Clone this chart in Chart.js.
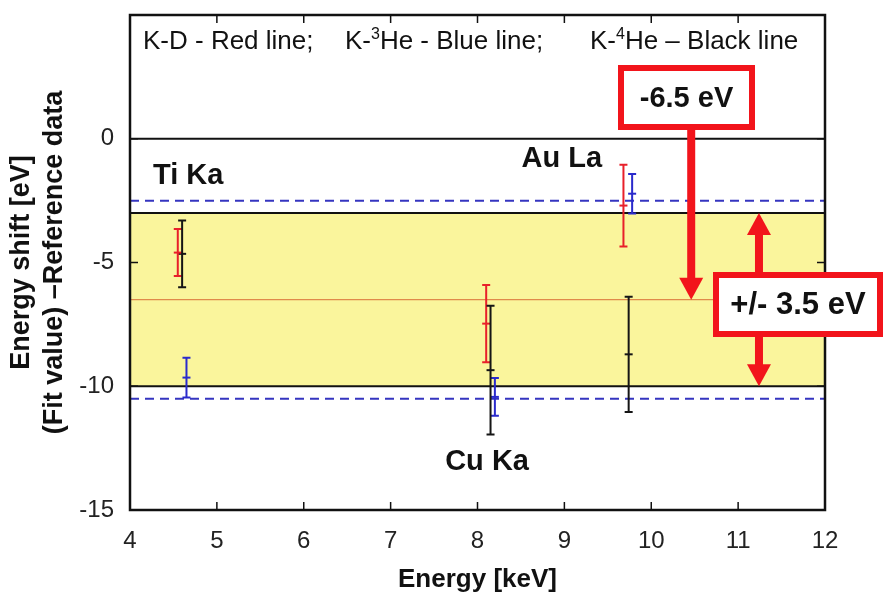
<!DOCTYPE html>
<html>
<head>
<meta charset="utf-8">
<script src="https://cdn.jsdelivr.net/npm/chart.js@4.4.1/dist/chart.umd.min.js"></script>
<style>
  html, body { margin: 0; padding: 0; background: #fff; }
  #wrap { width: 883px; height: 595px; }
</style>
</head>
<body>
<div id="wrap"><canvas id="shift"></canvas></div>
<script>
// fitted line energy minus reference energy [eV], one array set per target gas
const redEnergy = [4.55, 8.10, 9.68];     // K-D
const redShift = [-4.6, -7.47, -2.7];
const redError = [0.95, 1.56, 1.65];

const blueEnergy = [4.65, 8.20, 9.78];    // K-3He
const blueShift = [-9.65, -10.43, -2.22];
const blueError = [0.8, 0.76, 0.8];

const blackEnergy = [4.60, 8.15, 9.74];   // K-4He
const blackShift = [-4.65, -9.35, -8.71];
const blackError = [1.35, 2.6, 2.33];

const meanShift = -6.5;
const spread = 3.5;
const blueLimits = [-2.5, -10.5];

const xRange = [4, 12];
const yRange = [-15, 5];
const yTickLabels = [0, -5, -10, -15];

const peakNames = ['Ti Ka', 'Cu Ka', 'Au La'];
const peakNameAt = [[4.67, -1.5], [8.11, -13.05], [8.97, -0.8]];

const FONT = "'Liberation Sans', Arial, sans-serif";
const RED = '#f2141b';
const YELLOW = '#faf59c';

const hline = (value, color, width, dash) => ({
  type: 'line',
  data: [{ x: xRange[0], y: value }, { x: xRange[1], y: value }],
  borderColor: color,
  borderWidth: width,
  borderDash: dash || [],
  pointRadius: 0,
  fill: false,
});

const series = (xs, ys, errs, color) => ({
  type: 'scatter',
  data: xs.map((x, i) => ({ x, y: ys[i] })),
  errors: errs,
  borderColor: color,
  backgroundColor: color,
  pointStyle: 'line',
  pointRadius: 4,
  borderWidth: 2,
  showLine: false,
});

const band = hline(meanShift + spread, '#111', 2);
band.fill = { value: meanShift - spread };
band.backgroundColor = YELLOW;

const errorBars = {
  id: 'errorBars',
  afterDatasetsDraw(chart) {
    const { ctx, scales: { x, y } } = chart;
    chart.data.datasets.forEach((ds) => {
      if (!ds.errors) return;
      ctx.save();
      ctx.strokeStyle = ds.borderColor;
      ctx.lineWidth = 2;
      ds.data.forEach((p, j) => {
        const px = x.getPixelForValue(p.x);
        const top = y.getPixelForValue(p.y + ds.errors[j]);
        const bot = y.getPixelForValue(p.y - ds.errors[j]);
        ctx.beginPath();
        ctx.moveTo(px, top); ctx.lineTo(px, bot);
        ctx.moveTo(px - 4, top); ctx.lineTo(px + 4, top);
        ctx.moveTo(px - 4, bot); ctx.lineTo(px + 4, bot);
        ctx.stroke();
      });
      ctx.restore();
    });
  },
};

// box with inward tick marks on all four sides
const frame = {
  id: 'frame',
  afterDatasetsDraw(chart) {
    const { ctx, chartArea: a, scales: { x, y } } = chart;
    ctx.save();
    ctx.strokeStyle = '#111';
    ctx.lineWidth = 1.5;
    ctx.beginPath();
    x.ticks.forEach((t) => {
      if (t.value <= x.min || t.value >= x.max) return;
      const px = x.getPixelForValue(t.value);
      ctx.moveTo(px, a.bottom); ctx.lineTo(px, a.bottom - 8);
      ctx.moveTo(px, a.top); ctx.lineTo(px, a.top + 8);
    });
    y.ticks.forEach((t) => {
      if (t.value <= y.min || t.value >= y.max) return;
      const py = y.getPixelForValue(t.value);
      ctx.moveTo(a.left, py); ctx.lineTo(a.left + 8, py);
      ctx.moveTo(a.right, py); ctx.lineTo(a.right - 8, py);
    });
    ctx.stroke();
    ctx.lineWidth = 2.5;
    ctx.strokeRect(a.left, a.top, a.right - a.left, a.bottom - a.top);
    ctx.restore();
  },
};

function arrowHead(ctx, x, tipY, dir) {
  // dir = 1 points down, -1 points up
  ctx.beginPath();
  ctx.moveTo(x, tipY);
  ctx.lineTo(x - 12, tipY - dir * 22);
  ctx.lineTo(x + 12, tipY - dir * 22);
  ctx.closePath();
  ctx.fill();
}

function redBox(ctx, l, t, r, b, text, size) {
  ctx.fillStyle = '#fff';
  ctx.fillRect(l, t, r - l, b - t);
  ctx.strokeStyle = RED;
  ctx.lineWidth = 6;
  ctx.strokeRect(l, t, r - l, b - t);
  ctx.fillStyle = '#111';
  ctx.font = `bold ${size}px ${FONT}`;
  ctx.textAlign = 'center';
  ctx.textBaseline = 'middle';
  ctx.fillText(text, (l + r) / 2, (t + b) / 2 + 1);
}

// one legend entry: text pieces, superscripts raised and smaller
function legendEntry(ctx, x0, pieces) {
  let cx = x0;
  pieces.forEach(([s, sup]) => {
    ctx.font = sup ? `16px ${FONT}` : `26px ${FONT}`;
    ctx.fillText(s, cx, sup ? 39 : 49);
    cx += ctx.measureText(s).width;
  });
}

const notes = {
  id: 'notes',
  afterDraw(chart) {
    const { ctx, scales: { x, y } } = chart;
    ctx.save();

    ctx.fillStyle = '#111';
    ctx.textAlign = 'left';
    ctx.textBaseline = 'alphabetic';
    legendEntry(ctx, 143, [['K-D - Red line;', false]]);
    legendEntry(ctx, 345, [['K-', false], ['3', true], ['He - Blue line;', false]]);
    legendEntry(ctx, 590, [['K-', false], ['4', true], ['He \u2013 Black line', false]]);

    // peak names
    ctx.font = `bold 29px ${FONT}`;
    ctx.textAlign = 'center';
    ctx.textBaseline = 'middle';
    peakNames.forEach((name, i) => {
      ctx.fillText(name, x.getPixelForValue(peakNameAt[i][0]), y.getPixelForValue(peakNameAt[i][1]));
    });

    ctx.fillStyle = RED;
    // mean-shift arrow
    const ax = x.getPixelForValue(10.46);
    const tip = y.getPixelForValue(meanShift);
    ctx.fillRect(ax - 4, 128, 8, tip - 128 - 20);
    arrowHead(ctx, ax, tip, 1);

    // spread double arrow
    const bx = x.getPixelForValue(11.24);
    const up = y.getPixelForValue(meanShift + spread);
    const dn = y.getPixelForValue(meanShift - spread);
    ctx.fillRect(bx - 4, up + 20, 8, dn - up - 40);
    arrowHead(ctx, bx, up, -1);
    arrowHead(ctx, bx, dn, 1);

    redBox(ctx, 621, 68, 752, 127, `${meanShift} eV`, 29);
    redBox(ctx, 716, 275, 880, 334, `+/- ${spread} eV`, 31);
    ctx.restore();
  },
};

const chart = new Chart(document.getElementById('shift'), {
  type: 'scatter',
  data: {
    datasets: [
      series(redEnergy, redShift, redError, '#e8202a'),
      series(blueEnergy, blueShift, blueError, '#2a2acc'),
      series(blackEnergy, blackShift, blackError, '#151515'),
      hline(blueLimits[0], '#3535c0', 2, [9, 6]),
      hline(blueLimits[1], '#3535c0', 2, [9, 6]),
      hline(meanShift, '#e08a4a', 1.2),
      hline(0, '#111', 2),
      hline(meanShift - spread, '#111', 2),
      band,
    ],
  },
  options: {
    responsive: true,
    maintainAspectRatio: false,
    animation: false,
    layout: { autoPadding: false, padding: { top: 15, right: 58, left: 0, bottom: 0 } },
    plugins: { legend: { display: false }, tooltip: { enabled: false } },
    scales: {
      x: {
        type: 'linear',
        min: xRange[0],
        max: xRange[1],
        afterFit: (s) => { s.height = 85; s.paddingLeft = 0; s.paddingRight = 0; },
        grid: { display: false, drawTicks: false },
        border: { display: false },
        ticks: { stepSize: 1, padding: 17, color: '#222', font: { family: FONT, size: 24 } },
        title: {
          display: true,
          text: 'Energy [keV]',
          color: '#111',
          padding: { bottom: 0, top: 0 },
          font: { family: FONT, size: 26, weight: 'bold' },
        },
      },
      y: {
        min: yRange[0],
        max: yRange[1],
        afterFit: (s) => { s.width = 130; s.paddingTop = 0; s.paddingBottom = 0; },
        grid: { display: false, drawTicks: false },
        border: { display: false },
        ticks: {
          stepSize: 5,
          padding: 16,
          color: '#222',
          font: { family: FONT, size: 24 },
          callback: (v) => (yTickLabels.includes(v) ? String(v) : ''),
        },
        title: {
          display: true,
          text: ['Energy shift [eV]', '(Fit value) \u2013Reference data'],
          color: '#111',
          padding: { top: 5, bottom: 0 },
          font: { family: FONT, size: 27, weight: 'bold', lineHeight: 1.22 },
        },
      },
    },
  },
  plugins: [errorBars, frame, notes],
});
</script>
</body>
</html>
